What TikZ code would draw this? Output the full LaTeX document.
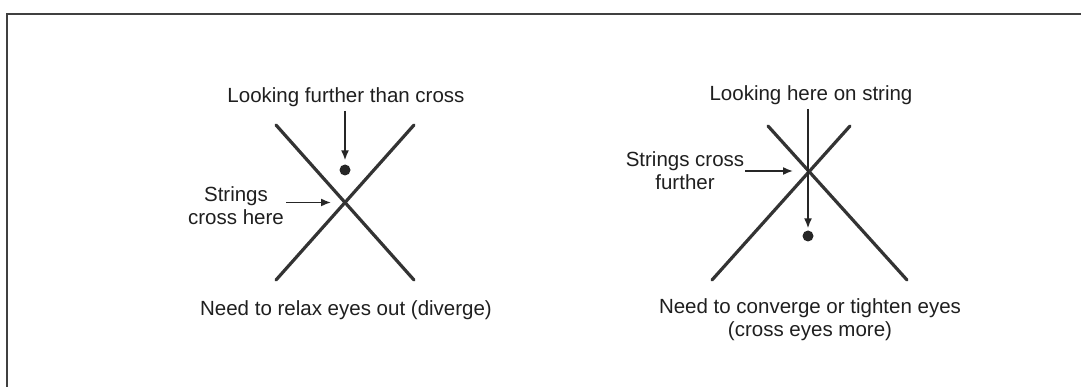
\documentclass[tikz,border=0pt]{standalone}
\usepackage{fontspec}
\setmainfont{Liberation Sans}
\usetikzlibrary{arrows.meta}
\begin{document}
\begin{tikzpicture}[x=1pt,y=-1pt,
  string/.style={line width=3.2pt, draw=black!80, line cap=round},
  lbl/.style={font=\fontsize{20.5}{23}\selectfont, text=black!88, inner sep=0pt, align=center},
  ptr/.style={line width=1.6pt, draw=black!85, -{Latex[length=10pt,width=8pt]}},
  dot/.style={circle, fill=black!85, minimum size=11pt, inner sep=0pt}]
\useasboundingbox (0,0) rectangle (1081,387);
\fill[white] (0,0) rectangle (1081,387);
\draw[line width=1.5pt, black!75] (7,387) -- (7,14) -- (1081,14);
% left diagram
\coordinate (L1) at (276,125);
\coordinate (L2) at (414,280);
\coordinate (L3) at (414,125);
\coordinate (L4) at (276,280);
\coordinate (LX) at (345,202.5);
\draw[string] (L1) -- (L2);
\draw[string] (L3) -- (L4);
\node[lbl] (lt) at (346,97) {Looking further than cross};
\node[dot] (ld) at (345,170) {};
\draw[ptr, shorten >=4pt] (lt.south -| ld) ++(0,4) -- (ld.north);
\node[lbl] (ls) at (236,206) {Strings\\cross here};
\draw[ptr, shorten >=14pt] (ls.east |- LX) ++(2,0) -- (LX);
\node[lbl] (lb) at (346,310) {Need to relax eyes out (diverge)};
% right diagram
\coordinate (R1) at (768,126);
\coordinate (R2) at (907,280);
\coordinate (R3) at (850,126);
\coordinate (R4) at (712,280);
\coordinate (RX) at (808,171);
\draw[string] (R1) -- (R2);
\draw[string] (R3) -- (R4);
\node[lbl] (rt) at (811,95) {Looking here on string};
\node[dot] (rd) at (808,236) {};
\draw[ptr, shorten >=2pt] (rt.south -| rd) ++(0,4) -- (rd.north);
\node[lbl] (rs) at (685,171) {Strings cross\\further};
\draw[ptr, shorten >=15pt] (rs.east |- RX) ++(1,0) -- (RX);
\node[lbl] (rb) at (810,320) {Need to converge or tighten eyes\\(cross eyes more)};
\end{tikzpicture}
\end{document}
